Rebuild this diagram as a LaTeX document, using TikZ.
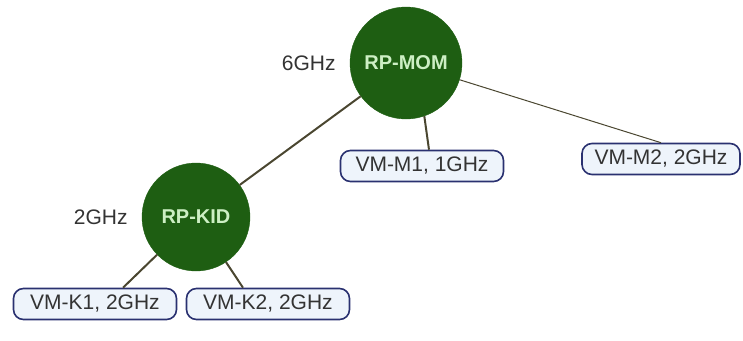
\documentclass[tikz,border=0pt]{standalone}
\usepackage{fontspec}
\setmainfont{Liberation Sans}
\usetikzlibrary{positioning}
\definecolor{rpfill}{HTML}{1E5E12}
\definecolor{rptext}{HTML}{CDEFC4}
\definecolor{vmdraw}{HTML}{2A3170}
\definecolor{vmfill}{HTML}{EEF4FB}
\definecolor{vmtext}{HTML}{333333}
\definecolor{link}{HTML}{4A4630}
\tikzset{
    rpnode/.style={circle, fill=rpfill, draw=rpfill, minimum size=112pt, inner sep=0pt,
                   text=rptext, font=\fontsize{20}{24}\selectfont\bfseries},
    vmbox/.style={rectangle, rounded corners=10pt, draw=vmdraw, fill=vmfill, line width=1.6pt,
                  minimum width=163pt, minimum height=31pt, inner sep=2pt, text=vmtext,
                  font=\fontsize{21}{24}\selectfont},
    freq/.style={text=vmtext, inner sep=0pt, font=\fontsize{21}{24}\selectfont},
    lnk/.style={draw=link, line width=2pt},
    thinlnk/.style={draw=link, line width=1pt},
}

\begin{document}
\begin{tikzpicture}[x=1pt, y=-1pt]
  \useasboundingbox (0,0) rectangle (743,340);

  \node[rpnode] (mom) at (406,63) {RP-MOM};
  \node[rpnode, minimum size=108pt] (kid) at (196,217) {RP-KID};

  \node[freq, left=14pt of mom] (momfreq) {6GHz};
  \node[freq, left=14pt of kid] (kidfreq) {2GHz};

  \node[vmbox] (m1) at (422,166) {VM-M1, 1GHz};
  \node[vmbox, minimum width=158pt] (m2) at (661,159) {VM-M2, 2GHz};
  \node[vmbox] (k1) at (95,304) {VM-K1, 2GHz};
  \node[vmbox] (k2) at (268,304) {VM-K2, 2GHz};

  \draw[lnk] (mom) -- (kid);
  \draw[lnk] (mom.-71) -- (m1.north -| 429,0);
  \draw[thinlnk] (mom) -- (m2.north);
  \draw[lnk] (kid) -- (k1.north -| 123,0);
  \draw[lnk] (kid) -- (k2.north -| 243,0);

\end{tikzpicture}
\end{document}
